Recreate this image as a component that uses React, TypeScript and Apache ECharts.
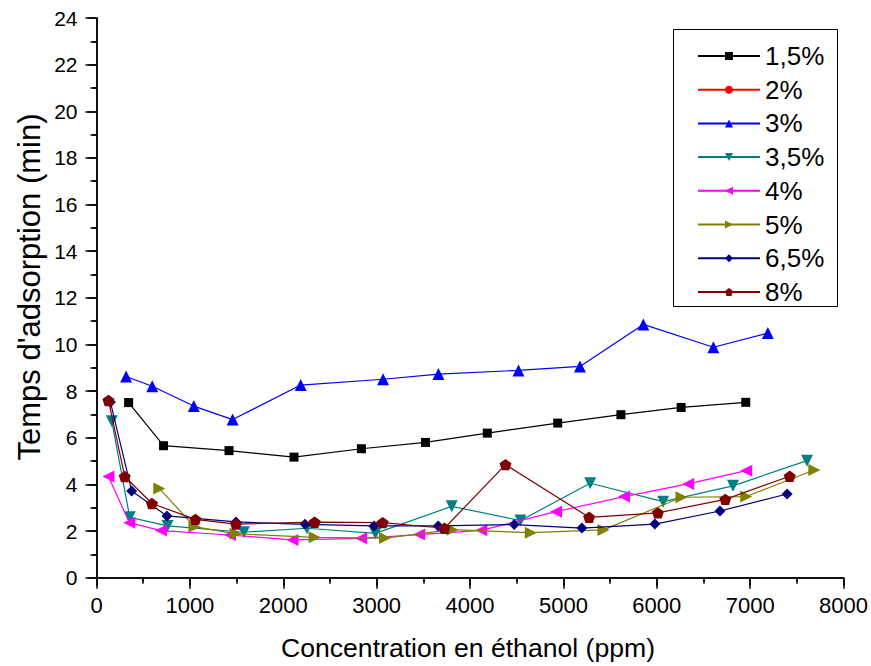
import React, { useEffect, useRef } from "react";
import * as echarts from "echarts";

const seriesNames = ["1,5%", "2%", "3%", "3,5%", "4%", "5%", "6,5%", "8%"];

const s15: [number, number][] = [
  [344, 7.51], [718, 5.66], [1419, 5.45], [2115, 5.17], [2837, 5.53], [3523, 5.8],
  [4185, 6.2], [4939, 6.63], [5616, 6.99], [6261, 7.3], [6953, 7.52],
];
const s2: [number, number][] = [];
const s3: [number, number][] = [
  [317, 8.63], [597, 8.21], [1042, 7.36], [1458, 6.78], [2187, 8.26], [3069, 8.51],
  [3662, 8.73], [4519, 8.89], [5177, 9.06], [5856, 10.86], [6606, 9.88], [7189, 10.49],
];
const s35: [number, number][] = [
  [164, 6.71], [356, 2.59], [761, 2.22], [1579, 1.95], [2254, 2.12], [2987, 1.9],
  [3804, 3.06], [4540, 2.45], [5287, 4.05], [6069, 3.26], [6816, 3.94], [7609, 5.02],
];
const s4: [number, number][] = [
  [128, 4.34], [352, 2.36], [690, 2.02], [1429, 1.83], [2098, 1.62], [2834, 1.69],
  [3456, 1.85], [4121, 2.03], [4921, 2.83], [5650, 3.48], [6336, 4.02], [6958, 4.59],
];
const s5: [number, number][] = [
  [672, 3.83], [1049, 2.19], [1490, 1.88], [2336, 1.73], [3090, 1.7], [3812, 2.06],
  [4651, 1.93], [5429, 2.05], [6265, 3.45], [6958, 3.48], [7687, 4.62],
];
const s65: [number, number][] = [
  [149, 7.53], [377, 3.72], [754, 2.65], [1493, 2.39], [2233, 2.29], [2972, 2.22],
  [3659, 2.22], [4473, 2.28], [5198, 2.13], [5980, 2.3], [6677, 2.86], [7396, 3.59],
];
const s8: [number, number][] = [
  [128, 7.6], [302, 4.34], [594, 3.18], [1059, 2.5], [1493, 2.3], [2336, 2.38],
  [3065, 2.36], [3726, 2.12], [4380, 4.85], [5276, 2.59], [6012, 2.78], [6734, 3.36],
  [7424, 4.35],
];

const xTitle = "Concentration en éthanol (ppm)";
const yTitle = "Temps d'adsorption (min)";

const allData = [s15, s2, s3, s35, s4, s5, s65, s8];
const colors = ["#000000", "#FF0000", "#0000FF", "#008080", "#FF00FF", "#808000", "#000080", "#800000"];
const PENT = "path://M50 0 L97.55 34.55 L79.39 90.45 L20.61 90.45 L2.45 34.55 Z";
const symbols = ["rect", "circle", "triangle", "triangle", "triangle", "triangle", "diamond", PENT];
const rotations = [0, 0, 0, 180, 90, -90, 0, 0];
const sizes = [9, 10, 12, 12, 12, 12, 11, 12];

const FONT = "'Liberation Sans', Arial, sans-serif";

export default function App() {
  const ref = useRef<HTMLDivElement>(null);
  useEffect(() => {
    if (!ref.current) return;
    const chart = echarts.init(ref.current, undefined, { renderer: "svg" });
    const axisCommon = {
      axisLine: { show: true, lineStyle: { color: "#000", width: 1.5 } },
      splitLine: { show: false },
    };
    chart.setOption({
      animation: false,
      backgroundColor: "#fff",
      textStyle: { fontFamily: FONT },
      grid: { left: 96.5, right: 25.5, top: 18, bottom: 88.3, containLabel: false },
      legend: {
        orient: "vertical",
        left: 697,
        top: 43,
        itemWidth: 62,
        itemHeight: 10,
        itemGap: 7.7,
        padding: 0,
        data: seriesNames,
        textStyle: { fontSize: 26, lineHeight: 26, color: "#000", fontFamily: FONT },
      },
      graphic: [
        {
          type: "rect",
          shape: { x: 673.5, y: 29.5, width: 164, height: 277 },
          style: { fill: "none", stroke: "#000", lineWidth: 1 },
          z: 10,
        },
        {
          type: "text",
          x: 29,
          y: 287,
          rotation: Math.PI / 2,
          style: {
            text: yTitle,
            fontSize: 31,
            fontFamily: FONT,
            fill: "#000",
            align: "center",
            verticalAlign: "middle",
          },
        },
        {
          type: "text",
          x: 468,
          y: 648,
          style: {
            text: xTitle,
            fontSize: 26.6,
            fontFamily: FONT,
            fill: "#000",
            align: "center",
            verticalAlign: "middle",
          },
        },
      ],
      xAxis: [
        {
          type: "value",
          min: 0,
          max: 8000,
          interval: 1000,
          position: "bottom",
          ...axisCommon,
          axisTick: { show: true, length: 11, inside: false, lineStyle: { color: "#000", width: 1.5 } },
          minorTick: { show: true, splitNumber: 2, length: 6, lineStyle: { color: "#000", width: 1.5 } },
          axisLabel: {
            fontSize: 22,
            color: "#000",
            margin: 17,
            fontFamily: FONT,
            formatter: (v: number) => String(v),
          },
        },
        {
          type: "value",
          min: 0,
          max: 8000,
          interval: 1000,
          position: "top",
          ...axisCommon,
          axisTick: { show: true, length: 8, inside: true, lineStyle: { color: "#000", width: 1.5 } },
          minorTick: { show: true, splitNumber: 2, length: 4, lineStyle: { color: "#000", width: 1.5 } },
          axisLabel: { show: false },
        },
      ],
      yAxis: [
        {
          type: "value",
          min: 0,
          max: 24,
          interval: 2,
          position: "left",
          ...axisCommon,
          axisTick: { show: true, length: 11, inside: false, lineStyle: { color: "#000", width: 1.5 } },
          minorTick: { show: true, splitNumber: 2, length: 6, lineStyle: { color: "#000", width: 1.5 } },
          axisLabel: { fontSize: 21, color: "#000", margin: 19, fontFamily: FONT },
        },
        {
          type: "value",
          min: 0,
          max: 24,
          interval: 2,
          position: "right",
          ...axisCommon,
          axisTick: { show: true, length: 8, inside: true, lineStyle: { color: "#000", width: 1.5 } },
          minorTick: { show: true, splitNumber: 2, length: 4, lineStyle: { color: "#000", width: 1.5 } },
          axisLabel: { show: false },
        },
      ],
      series: seriesNames.map((name, i) => ({
        name,
        type: "line",
        xAxisIndex: 0,
        yAxisIndex: 0,
        data: allData[i],
        symbol: symbols[i],
        symbolRotate: rotations[i],
        symbolSize: sizes[i],
        symbolKeepAspect: true,
        showAllSymbol: true,
        color: colors[i],
        lineStyle: { color: colors[i], width: 1.2 },
        itemStyle: { color: colors[i] },
        z: 2 + i,
      })),
    });
    return () => chart.dispose();
  }, []);
  return (
    <div
      ref={ref}
      style={{ position: "fixed", left: 0, top: 0, width: 871, height: 666, background: "#fff" }}
    />
  );
}
